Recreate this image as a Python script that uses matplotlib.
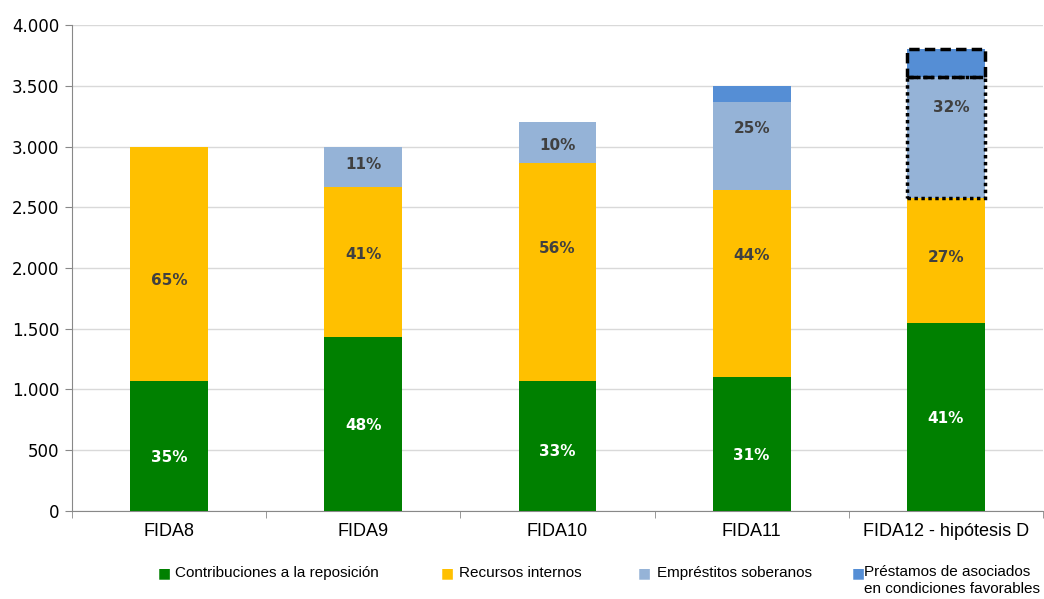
import numpy as np
import matplotlib
matplotlib.use('Agg')
import matplotlib.pyplot as plt

# data
categories = ['FIDA8', 'FIDA9', 'FIDA10', 'FIDA11', 'FIDA12 - hipótesis D']
contribuciones = [1070, 1430, 1070, 1100, 1550]
recursos = [1930, 1237, 1794, 1540, 1030]
emprestitos = [0, 333, 336, 730, 990]
prestamos = [0, 0, 0, 130, 230]

pct_contrib = ['35%', '48%', '33%', '31%', '41%']
pct_recursos = ['65%', '41%', '56%', '44%', '27%']
pct_empr = ['', '11%', '10%', '25%', '32%']

series_names = ['Contribuciones a la reposición', 'Recursos internos',
                'Empréstitos soberanos', 'Préstamos de asociados\nen condiciones favorables']
colors = ['#008000', '#FFC000', '#95B3D7', '#558ED5']

fig = plt.figure(figsize=(10.44, 5.99), dpi=100)
ax = fig.add_axes([0.069, 0.147, 0.93, 0.811])

x = np.arange(len(categories))
w = 0.4
b1 = np.array(contribuciones)
b2 = b1 + np.array(recursos)
b3 = b2 + np.array(emprestitos)

ax.bar(x, contribuciones, w, color=colors[0], zorder=3)
ax.bar(x, recursos, w, bottom=b1, color=colors[1], zorder=3)
ax.bar(x, emprestitos, w, bottom=b2, color=colors[2], zorder=3)
ax.bar(x, prestamos, w, bottom=b3, color=colors[3], zorder=3)

# hypothetical part of FIDA12 outlined
last = len(categories) - 1
ax.bar(x[last], emprestitos[last], w, bottom=b2[last], fill=False,
       edgecolor='black', linewidth=2.5, linestyle=(0, (1, 1)), zorder=4)
ax.bar(x[last], prestamos[last], w, bottom=b3[last], fill=False,
       edgecolor='black', linewidth=2.5, linestyle=(0, (3, 1.5)), zorder=4)

# label anchors (as placed in the original, not exactly centred)
y_lab_contrib = [440, 700, 490, 460, 760]
y_lab_recursos = [1900, 2115, 2165, 2100, 2090]
y_lab_empr = [0, 2850, 3010, 3145, 3320]

lab_font = dict(fontsize=11, fontweight='bold', family='DejaVu Sans',
                ha='center', va='center', zorder=5)
for i in range(len(categories)):
    ax.text(x[i], y_lab_contrib[i], pct_contrib[i], color='white', **lab_font)
    ax.text(x[i], y_lab_recursos[i], pct_recursos[i], color='#404040', **lab_font)
    if pct_empr[i]:
        ax.text(x[i] + (0.03 if i == last else 0), y_lab_empr[i], pct_empr[i],
                color='#404040', **lab_font)

ax.set_xlim(-0.5, len(categories) - 0.5)
ax.set_ylim(0, 4000)
ax.set_yticks(np.arange(0, 4001, 500))
ax.set_yticklabels(['0' if v == 0 else f'{v:,}'.replace(',', '.') for v in range(0, 4001, 500)],
                   fontsize=12, family='DejaVu Sans')
ax.set_xticks(x)
ax.set_xticklabels(categories, fontsize=13, family='Liberation Sans')
ax.set_xticks(np.arange(-0.5, len(categories), 1), minor=True)
ax.tick_params(axis='x', which='major', length=0, pad=9)
ax.tick_params(axis='x', which='minor', length=5, color='#888888')
ax.tick_params(axis='y', length=5, color='#888888', pad=4)

ax.grid(axis='y', color='#d9d9d9', linewidth=1, zorder=0)
for s in ['top', 'right']:
    ax.spines[s].set_visible(False)
for s in ['left', 'bottom']:
    ax.spines[s].set_color('#888888')

# legend drawn by hand to match spacing
leg_x = [0.151, 0.422, 0.611, 0.816]
leg_txt_x = [0.168, 0.440, 0.629, 0.828]
for i in range(4):
    fig.text(leg_x[i], 0.043, '■', color=colors[i], fontsize=10, va='center', ha='left')
    if i < 3:
        fig.text(leg_txt_x[i], 0.043, series_names[i], fontsize=11,
                 family='Liberation Sans', va='center', ha='left')
    else:
        fig.text(leg_txt_x[i], 0.057, series_names[i], fontsize=11,
                 family='Liberation Sans', va='top', ha='left', linespacing=1.3)

fig.savefig('out.png', dpi=100)
